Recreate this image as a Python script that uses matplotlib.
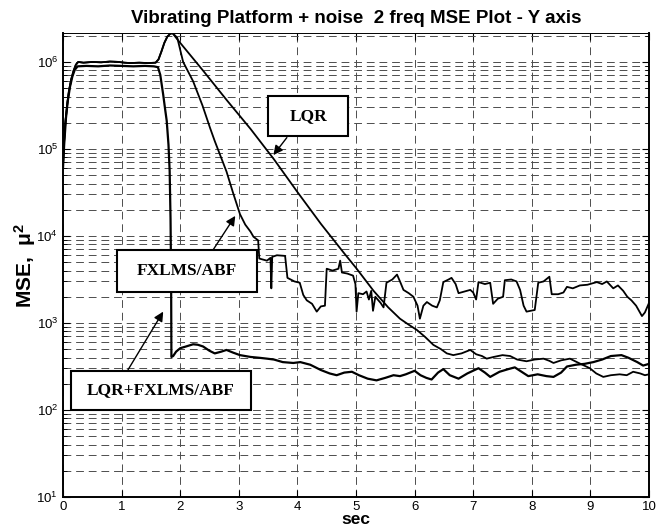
import matplotlib
matplotlib.use("Agg")
import matplotlib.pyplot as plt
from matplotlib.patches import Rectangle
from matplotlib.ticker import LogLocator, NullFormatter, FixedLocator

plt.rcParams["font.family"] = ["Liberation Sans", "DejaVu Sans"]
plt.rcParams["mathtext.fontset"] = "custom"
plt.rcParams["mathtext.rm"] = "Liberation Sans"
plt.rcParams["mathtext.it"] = "Liberation Sans:italic"
plt.rcParams["mathtext.bf"] = "Liberation Sans:bold"

# ── data ─────────────────────────────────────────────────────────────────────
# common start-up + peak shared by LQR and FXLMS/ABF
t_rise = [0.0, 0.02, 0.04, 0.07, 0.10, 0.14, 0.18, 0.22, 0.26, 0.35, 0.5, 0.65,
          0.8, 0.95, 1.05, 1.15, 1.3, 1.45, 1.58, 1.63, 1.68, 1.73, 1.78, 1.83, 1.87]
mse_rise = [6.5e4, 1.26e5, 2.0e5, 3.16e5, 4.57e5, 6.3e5, 7.9e5, 9.3e5, 1.0e6, 9.8e5,
            1.0e6, 9.9e5, 1.01e6, 1.0e6, 9.8e5, 9.7e5, 9.8e5, 9.7e5, 9.8e5, 1.07e6,
            1.32e6, 1.66e6, 1.95e6, 2.11e6, 2.14e6]

t_lqr = [1.95, 2.4, 2.8, 3.2, 3.6, 4.0, 4.4, 4.8, 5.0, 5.30, 5.55, 5.75, 5.9,
         6.04, 6.18, 6.32, 6.45, 6.55, 6.66, 6.8, 6.95, 7.05, 7.15, 7.23, 7.35, 7.5,
         7.63, 7.75, 7.91, 8.05, 8.2, 8.3, 8.37, 8.5, 8.65, 8.8, 8.99, 9.1, 9.22,
         9.35, 9.5, 9.62, 9.73, 9.85, 9.93, 10.0]
mse_lqr = [1.82e6, 7.8e5, 3.6e5, 1.7e5, 7.6e4, 3.2e4, 1.38e4, 6.3e3, 4.3e3, 2.34e3,
           1.51e3, 1.12e3, 955, 830, 690, 560, 500, 447, 427, 447, 490, 437, 417,
           389, 407, 427, 417, 380, 363, 380, 389, 367, 347, 372, 389, 347, 302,
           263, 240, 251, 257, 251, 275, 263, 251, 257]

t_fx = [1.95, 2.05, 2.22, 2.38, 2.51, 2.59, 2.70, 2.79, 2.9, 3.02, 3.11, 3.2, 3.25,
        3.33, 3.35, 3.48, 3.54, 3.555, 3.57, 3.65, 3.79, 3.83, 3.95, 4.04, 4.10,
        4.16, 4.25, 4.33, 4.40, 4.47, 4.50, 4.60, 4.70, 4.73, 4.76, 4.85, 4.95,
        4.99, 5.01, 5.04, 5.12, 5.18, 5.22, 5.26, 5.29, 5.33, 5.42, 5.47, 5.52,
        5.62, 5.70, 5.76, 5.81, 5.90, 5.98, 6.05, 6.09, 6.15, 6.21, 6.30, 6.38,
        6.43, 6.49, 6.58, 6.63, 6.70, 6.75, 6.85, 6.95, 7.0, 7.05, 7.09, 7.20,
        7.29, 7.34, 7.42, 7.51, 7.54, 7.65, 7.74, 7.80, 7.86, 7.91, 8.05, 8.11,
        8.20, 8.30, 8.34, 8.45, 8.54, 8.60, 8.70, 8.82, 8.95, 9.11, 9.20, 9.28,
        9.39, 9.47, 9.56, 9.63, 9.70, 9.78, 9.88, 9.93, 10.0]
mse_fx = [1.9e6, 1.0e6, 6.0e5, 3.16e5, 1.74e5, 1.23e5, 7.9e4, 5.5e4, 3.16e4, 1.78e4,
          1.35e4, 1.12e4, 9.8e3, 8.9e3, 5.5e3, 5.2e3, 5.6e3, 2.5e3, 5.75e3, 6.0e3,
          5.9e3, 3.3e3, 3.0e3, 2.9e3, 2.1e3, 1.82e3, 1.66e3, 1.35e3, 1.55e3, 1.58e3,
          4.2e3, 4.0e3, 4.2e3, 5.2e3, 3.8e3, 3.7e3, 3.5e3, 2.8e3, 1.35e3, 2.2e3,
          2.14e3, 2.3e3, 1.86e3, 2.34e3, 1.38e3, 2.0e3, 1.7e3, 1.51e3, 2.9e3, 3.16e3,
          3.6e3, 2.9e3, 2.4e3, 2.2e3, 2.0e3, 1.58e3, 1.12e3, 1.58e3, 1.74e3, 1.58e3,
          1.51e3, 1.82e3, 2.95e3, 3.16e3, 3.3e3, 2.8e3, 2.2e3, 2.3e3, 2.4e3, 2.24e3,
          1.86e3, 2.95e3, 2.8e3, 2.9e3, 1.66e3, 1.9e3, 2.0e3, 3.1e3, 3.16e3, 3.0e3,
          2.4e3, 1.58e3, 1.35e3, 1.41e3, 2.9e3, 3.0e3, 3.4e3, 2.14e3, 2.14e3, 2.24e3,
          2.6e3, 2.5e3, 2.7e3, 2.75e3, 2.95e3, 2.8e3, 3.0e3, 2.5e3, 2.7e3, 2.34e3,
          2.0e3, 1.82e3, 1.58e3, 1.2e3, 1.32e3, 1.7e3]

t_both = [0.0, 0.02, 0.05, 0.08, 0.12, 0.16, 0.20, 0.25, 0.4, 0.6, 0.8, 1.0, 1.2,
          1.4, 1.55, 1.62, 1.66, 1.71, 1.74, 1.77, 1.80, 1.82, 1.835, 1.845, 1.85,
          1.88, 1.93, 2.0, 2.1, 2.22, 2.3, 2.39, 2.5, 2.59, 2.7, 2.79, 2.9, 3.02,
          3.2, 3.35, 3.48, 3.6, 3.75, 3.93, 4.05, 4.22, 4.4, 4.55, 4.67, 4.8, 4.93,
          5.05, 5.2, 5.35, 5.5, 5.64, 5.75, 5.85, 6.0, 6.1, 6.2, 6.29, 6.4, 6.49,
          6.6, 6.75, 6.9, 7.09, 7.2, 7.29, 7.45, 7.6, 7.71, 7.8, 7.94, 8.1, 8.25,
          8.37, 8.5, 8.6, 8.75, 8.9, 9.05, 9.2, 9.35, 9.53, 9.65, 9.8, 9.9, 10.0]
mse_both = [6.0e4, 1.12e5, 2.24e5, 3.5e5, 5.2e5, 6.8e5, 8.1e5, 8.9e5, 9.0e5, 8.9e5,
            9.1e5, 9.0e5, 8.9e5, 9.0e5, 8.9e5, 8.7e5, 7.1e5, 4.2e5, 2.95e5, 2.1e5,
            1.12e5, 5.6e4, 1.58e4, 3.16e3, 407, 417, 468, 513, 537, 569, 562, 537,
            479, 447, 468, 490, 457, 427, 407, 398, 389, 380, 355, 347, 355, 331,
            288, 263, 251, 269, 275, 251, 229, 219, 234, 251, 245, 257, 282, 251,
            234, 224, 269, 295, 251, 229, 263, 302, 269, 240, 275, 295, 309, 282,
            245, 257, 245, 240, 269, 316, 331, 339, 355, 380, 417, 427, 398, 355,
            324, 339]

x_ticks = [0, 1, 2, 3, 4, 5, 6, 7, 8, 9, 10]
y_lim = (10, 2.15e6)

# ── figure ───────────────────────────────────────────────────────────────────
fig = plt.figure(figsize=(6.63, 5.31), dpi=100)
ax = fig.add_axes([63 / 663, 34 / 531, 586 / 663, 464 / 531])

ax.plot(t_rise + t_lqr, mse_rise + mse_lqr, color="k", lw=1.3, zorder=3)
ax.plot(t_rise + t_fx, mse_rise + mse_fx, color="k", lw=1.3, zorder=3)
ax.plot(t_both, mse_both, color="k", lw=1.6, zorder=3)

ax.set_yscale("log")
ax.set_xlim(0, 10)
ax.set_ylim(*y_lim)
ax.xaxis.set_major_locator(FixedLocator(x_ticks))
ax.yaxis.set_major_locator(LogLocator(base=10, numticks=10))
ax.yaxis.set_minor_locator(LogLocator(base=10, subs=range(2, 10), numticks=20))
ax.yaxis.set_minor_formatter(NullFormatter())

grid_kw = dict(color="0.3", lw=0.7, linestyle=(0, (8, 5)))
ax.grid(True, which="major", axis="both", **grid_kw)
ax.grid(True, which="minor", axis="y", **grid_kw)
ax.set_axisbelow(True)

ax.tick_params(which="both", direction="in", top=True, right=True, labelsize=9.5)
ax.tick_params(which="major", length=5)
ax.tick_params(which="minor", length=3)
ax.tick_params(axis="x", pad=3)
for side in ["left", "bottom", "right"]:
    ax.spines[side].set_linewidth(1.4)
ax.spines["top"].set_linewidth(0.7)

ax.set_title("Vibrating Platform + noise  2 freq MSE Plot - Y axis",
             fontsize=13.5, fontweight="bold", pad=7)
ax.set_xlabel("sec", fontsize=12.5, fontweight="bold", labelpad=-1)
ax.set_ylabel(r"MSE,  μ$^\mathbf{2}$", fontsize=15, fontweight="bold", labelpad=-1)

# ── labelled boxes with arrows ───────────────────────────────────────────────
boxes = [
    ("LQR", (0.350, 0.777, 0.137, 0.087), (3.82, 1.35e5), (3.59, 8.5e4)),
    ("FXLMS/ABF", (0.092, 0.441, 0.239, 0.091), (2.56, 6.9e3), (2.94, 1.7e4)),
    ("LQR+FXLMS/ABF", (0.014, 0.188, 0.306, 0.084), (1.11, 290), (1.71, 1.35e3)),
]
for label, (x0, y0, w, h), base, tip in boxes:
    ax.annotate("", xy=tip, xytext=base,
                arrowprops=dict(arrowstyle="-|>", color="k", lw=1.0,
                                mutation_scale=14, shrinkA=0, shrinkB=0),
                zorder=4)
    ax.add_patch(Rectangle((x0, y0), w, h, transform=ax.transAxes,
                           fc="white", ec="k", lw=1.5, zorder=5))
    ax.text(x0 + w / 2, y0 + h / 2, label, transform=ax.transAxes,
            ha="center", va="center", fontsize=12.5, fontweight="bold",
            family=["Liberation Serif", "DejaVu Serif"], zorder=6)

fig.savefig("out.png", dpi=100)
